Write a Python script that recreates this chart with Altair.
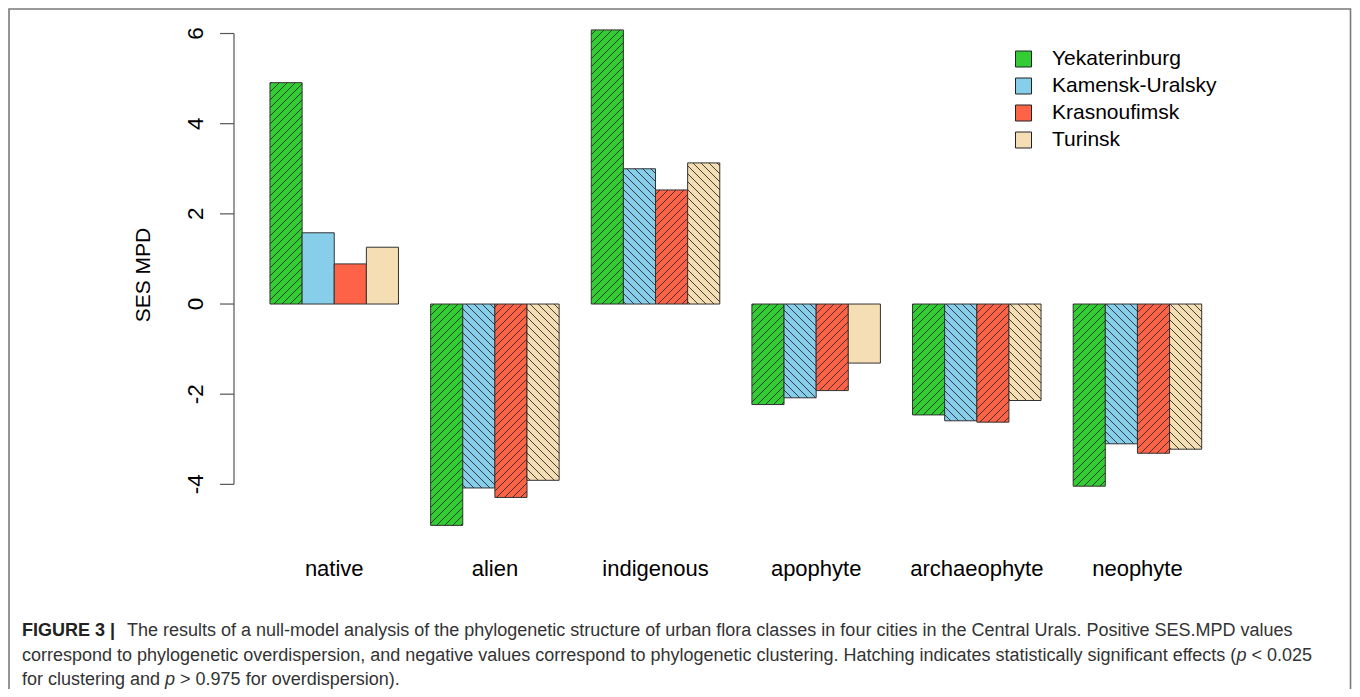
import math
import pandas as pd
import altair as alt

# ---------------- data ----------------
categories = ["native", "alien", "indigenous", "apophyte", "archaeophyte", "neophyte"]
cities = ["Yekaterinburg", "Kamensk-Uralsky", "Krasnoufimsk", "Turinsk"]
colors = ["#32CD32", "#87CEEB", "#FF6347", "#F5DEB3"]

yekaterinburg = [4.91, -4.91, 6.08, -2.23, -2.46, -4.04]
kamensk_uralsky = [1.58, -4.08, 3.00, -2.08, -2.59, -3.10]
krasnoufimsk = [0.89, -4.29, 2.53, -1.92, -2.62, -3.31]
turinsk = [1.26, -3.91, 3.13, -1.31, -2.14, -3.22]

# hatched = statistically significant
sig_yekaterinburg = [True, True, True, True, True, True]
sig_kamensk_uralsky = [False, True, True, True, True, True]
sig_krasnoufimsk = [False, True, True, True, True, True]
sig_turinsk = [False, True, True, False, True, True]

hatch_dir = ["/", "\\", "/", "\\"]
y_ticks = [-4, -2, 0, 2, 4, 6]
y_tick_labels = ["-4", "-2", "0", "2", "4", "6"]
y_title = "SES MPD"

caption_bold = "FIGURE 3 |"
caption_line1 = ("The results of a null-model analysis of the phylogenetic structure of urban flora "
                 "classes in four cities in the Central Urals. Positive SES.MPD values")
# (text, italic) pieces
caption_line2 = [("correspond to phylogenetic overdispersion, and negative values correspond to "
                  "phylogenetic clustering. Hatching indicates statistically significant effects (", False),
                 ("p", True), (" < 0.025", False)]
caption_line3 = [("for clustering and ", False), ("p", True),
                 (" > 0.975 for overdispersion).", False)]

# ---------------- layout ----------------
W, H = 1004, 541
XMAX = 31.25          # x domain in bar-width units
X_START = 1.12        # outer space before first group
GROUP = 5             # 4 bars + 1 gap (R barplot beside=TRUE)
YMIN, YMAX = -5.7, 6.3
PX_X = W / XMAX
PX_Y = H / (YMAX - YMIN)
HATCH_SPACING = 8.0   # px, measured vertically
FONT = "Liberation Sans"
CAP_SIZE = 18

# Arial / Liberation Sans advance widths (1/1000 em) for caption layout
_W = {" ": 278, "(": 333, ")": 333, ",": 278, "-": 333, ".": 278, "<": 584, ">": 584,
      "|": 260, "a": 556, "b": 556, "c": 500, "d": 556, "e": 556, "f": 278, "g": 556,
      "h": 556, "i": 222, "j": 222, "k": 500, "l": 222, "m": 833, "n": 556, "o": 556,
      "p": 556, "q": 556, "r": 333, "s": 500, "t": 278, "u": 556, "v": 500, "w": 722,
      "x": 500, "y": 500, "z": 500, "H": 722}


def text_width(t, size):
    return sum(_W.get(ch, 556) for ch in t) * size / 1000.0


series = [yekaterinburg, kamensk_uralsky, krasnoufimsk, turinsk]
sigs = [sig_yekaterinburg, sig_kamensk_uralsky, sig_krasnoufimsk, sig_turinsk]

rows = []
for g, cat in enumerate(categories):
    for c, city in enumerate(cities):
        x0 = X_START + GROUP * g + c
        rows.append(dict(category=cat, city=city, value=series[c][g], zero=0.0,
                         x0=x0, x1=x0 + 1, sig=sigs[c][g], dir=hatch_dir[c]))
bars = pd.DataFrame(rows)

# hatch segments, computed in pixel space then mapped back to data units
segs = []
s = HATCH_SPACING
for r in rows:
    if not r["sig"]:
        continue
    X0, X1 = r["x0"] * PX_X, r["x1"] * PX_X
    Y0, Y1 = min(0, r["value"]) * PX_Y, max(0, r["value"]) * PX_Y
    if r["dir"] == "/":
        cmin, cmax = Y0 - X1, Y1 - X0
        k = math.ceil(cmin / s)
        while k * s <= cmax:
            cc = k * s
            xa, xb = max(X0, Y0 - cc), min(X1, Y1 - cc)
            if xb - xa > 0.3:
                segs.append((xa, xa + cc, xb, xb + cc))
            k += 1
    else:
        cmin, cmax = Y0 + X0, Y1 + X1
        k = math.ceil(cmin / s)
        while k * s <= cmax:
            cc = k * s
            xa, xb = max(X0, cc - Y1), min(X1, cc - Y0)
            if xb - xa > 0.3:
                segs.append((xa, cc - xa, xb, cc - xb))
            k += 1
hatch = pd.DataFrame([dict(hx=a / PX_X, hy=b / PX_Y, hx2=c_ / PX_X, hy2=d / PX_Y)
                      for a, b, c_, d in segs])

cat_df = pd.DataFrame({"category": categories,
                       "center": [X_START + GROUP * g + 2 for g in range(len(categories))]})
tick_df = pd.DataFrame({"t": y_ticks, "label": y_tick_labels})

xs = alt.Scale(domain=[0, XMAX], nice=False, zero=False)
ys = alt.Scale(domain=[YMIN, YMAX], nice=False, zero=False)

bars_layer = alt.Chart(bars).mark_rect(stroke="#333333", strokeWidth=1).encode(
    x=alt.X("x0:Q", scale=xs, axis=None),
    x2="x1:Q",
    y=alt.Y("value:Q", scale=ys, axis=None),
    y2="zero:Q",
    color=alt.Color("city:N", scale=alt.Scale(domain=cities, range=colors),
                    legend=alt.Legend(orient="none", legendX=779, legendY=28.5, title=None,
                                      symbolType="square", symbolSize=256,
                                      symbolStrokeColor="#222222", symbolStrokeWidth=1,
                                      labelFontSize=21, labelColor="black", labelFont=FONT,
                                      labelOffset=18, rowPadding=5, padding=0,
                                      labelLimit=400)),
)

hatch_layer = alt.Chart(hatch).mark_rule(color="#2a2a2a", strokeWidth=0.9).encode(
    x=alt.X("hx:Q", scale=xs, axis=None),
    x2="hx2:Q",
    y=alt.Y("hy:Q", scale=ys, axis=None),
    y2="hy2:Q",
)

# y axis (R style: line only between first and last tick)
axis_line = alt.Chart(pd.DataFrame({"lo": [y_ticks[0]], "hi": [y_ticks[-1]]})).mark_rule(
    color="#555555", strokeWidth=1.2).encode(
    x=alt.value(0),
    y=alt.Y("lo:Q", scale=ys, axis=None),
    y2="hi:Q",
)
axis_ticks = alt.Chart(tick_df).mark_rule(color="#555555", strokeWidth=1.2).encode(
    x=alt.value(-14), x2=alt.value(0),
    y=alt.Y("t:Q", scale=ys, axis=None),
)
axis_labels = alt.Chart(tick_df).mark_text(
    angle=270, align="center", baseline="alphabetic", fontSize=22.5, font=FONT,
    color="black").encode(
    x=alt.value(-31.5),
    y=alt.Y("t:Q", scale=ys, axis=None),
    text="label:N",
)
axis_title = alt.Chart(pd.DataFrame({"t": [y_title]})).mark_text(
    angle=270, align="center", baseline="alphabetic", fontSize=21, font=FONT,
    color="black").encode(text="t:N", x=alt.value(-84), y=alt.value(255))

cat_labels = alt.Chart(cat_df).mark_text(
    align="center", baseline="alphabetic", fontSize=22, font=FONT, color="black").encode(
    x=alt.X("center:Q", scale=xs, axis=None),
    y=alt.value(556),
    text="category:N",
)

border = alt.Chart(pd.DataFrame({"a": [0]})).mark_rect(
    fill="white", fillOpacity=0, stroke="#7a7a7a", strokeWidth=1.6).encode(
    x=alt.value(-225), x2=alt.value(1116.5), y=alt.value(-11), y2=alt.value(700))


def caption(text, x, y, weight="normal", color="#333333", style="normal"):
    return alt.Chart(pd.DataFrame({"t": [text]})).mark_text(
        align="left", baseline="alphabetic", fontSize=CAP_SIZE, font=FONT,
        fontWeight=weight, fontStyle=style, color=color).encode(
        text="t:N", x=alt.value(x), y=alt.value(y))


def caption_pieces(pieces, x, y):
    # SVG drops leading spaces, so shift each piece by its leading whitespace
    layers = []
    for text, italic in pieces:
        lead = len(text) - len(text.lstrip(" "))
        layers.append(caption(text.lstrip(" "), x + text_width(text[:lead], CAP_SIZE), y,
                              style="italic" if italic else "normal"))
        x += text_width(text, CAP_SIZE)
    return layers


chart = alt.layer(
    bars_layer,
    hatch_layer,
    axis_line,
    axis_ticks,
    axis_labels,
    axis_title,
    cat_labels,
    caption(caption_bold, -212, 616, "bold", "#222222"),
    caption(caption_line1, -107, 616),
    *caption_pieces(caption_line2, -212, 641),
    *caption_pieces(caption_line3, -212, 665),
    border,
).properties(
    width=W, height=H,
    padding={"left": 226, "top": 12, "right": 114, "bottom": 128},
    autosize=alt.AutoSizeParams(type="none"),
    background="white",
).configure(font=FONT).configure_view(stroke="transparent")

chart.save("out.html", embed_options={"renderer": "svg", "actions": False})
